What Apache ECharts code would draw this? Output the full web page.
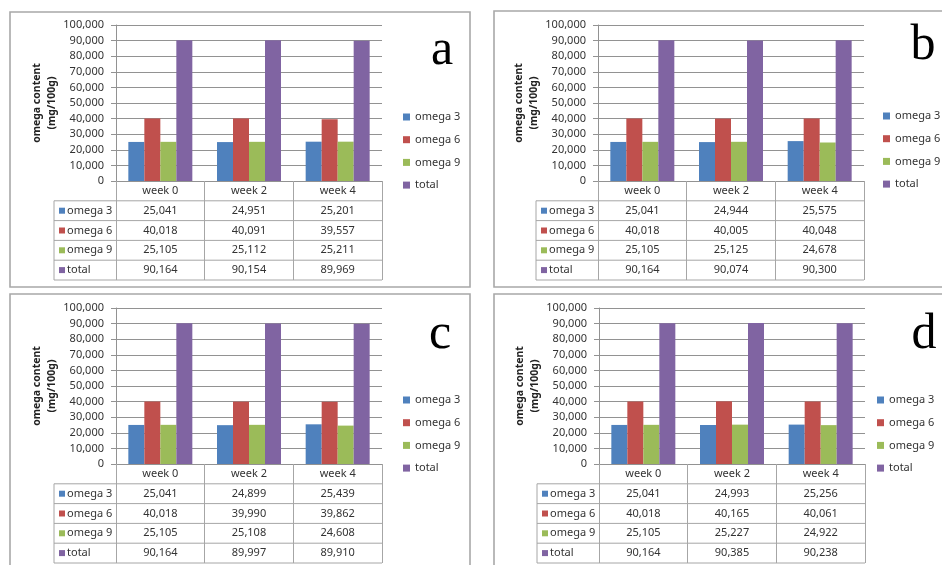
<!DOCTYPE html>
<html>
<head>
<meta charset="utf-8">
<script src="https://cdn.jsdelivr.net/npm/echarts@6/dist/echarts.min.js"></script>
<style>
html,body{margin:0;padding:0;background:#fff;}
#chart{width:942px;height:565px;}
</style>
</head>
<body>
<div id="chart"></div>
<script>
// ---------- data ----------
const weeks = ['week 0', 'week 2', 'week 4'];
const seriesNames = ['omega 3', 'omega 6', 'omega 9', 'total'];
const panelLetters = ['a', 'b', 'c', 'd'];
const yTickMin = 0, yTickMax = 100000, yTickStep = 10000;

const omega3A = [25041, 24951, 25201];
const omega6A = [40018, 40091, 39557];
const omega9A = [25105, 25112, 25211];
const totalA  = [90164, 90154, 89969];

const omega3B = [25041, 24944, 25575];
const omega6B = [40018, 40005, 40048];
const omega9B = [25105, 25125, 24678];
const totalB  = [90164, 90074, 90300];

const omega3C = [25041, 24899, 25439];
const omega6C = [40018, 39990, 39862];
const omega9C = [25105, 25108, 24608];
const totalC  = [90164, 89997, 89910];

const omega3D = [25041, 24993, 25256];
const omega6D = [40018, 40165, 40061];
const omega9D = [25105, 25227, 24922];
const totalD  = [90164, 90385, 90238];

const panelData = [
  [omega3A, omega6A, omega9A, totalA],
  [omega3B, omega6B, omega9B, totalB],
  [omega3C, omega6C, omega9C, totalC],
  [omega3D, omega6D, omega9D, totalD]
];

// ---------- styles / layout ----------
const colors = ['#4F81BD', '#C0504D', '#9BBB59', '#8064A2'];
const FONT = '"Noto Sans", "Open Sans", sans-serif';
const TXT = '#333333';
const GRID_C = '#929292';
const TABLE_C = '#a6a6a6';
const ROW_H = 19.8;
const GW = 266, GH = 156;

const layout = [
  {gl: 116, gt: 25,  lg: [403, 111], letter: [442, 51],  frame: [10, 12, 460, 275]},
  {gl: 598, gt: 25,  lg: [883, 110], letter: [923, 46],  frame: [494, 11, 470, 276]},
  {gl: 116, gt: 308, lg: [403, 394], letter: [440, 335], frame: [10, 294, 460, 300]},
  {gl: 599, gt: 308, lg: [877, 394], letter: [924, 335], frame: [494, 294, 470, 300]}
];

const fmt = v => Number(v).toLocaleString('en-US');

const grids = [], xAxes = [], yAxes = [], series = [], legends = [], graphics = [];

layout.forEach((L, p) => {
  grids.push({left: L.gl, top: L.gt, width: GW, height: GH, outerBoundsMode: 'none', containLabel: false});
  const cols = panelData[p];
  xAxes.push({
    type: 'category', gridIndex: p, data: weeks,
    axisLine: {show: true, lineStyle: {color: GRID_C, width: 1}},
    axisTick: {show: true, interval: 0, length: ROW_H * 5, lineStyle: {color: TABLE_C, width: 1}},
    axisLabel: {
      interval: 0, margin: 0, fontSize: 11, lineHeight: ROW_H, color: TXT, fontFamily: FONT,
      formatter: (val, idx) => [val].concat(cols.map(c => fmt(c[idx]))).join('\n')
    }
  });
  yAxes.push({
    type: 'value', gridIndex: p, min: yTickMin, max: yTickMax, interval: yTickStep,
    name: 'omega content\n(mg/100g)', nameLocation: 'middle', nameRotate: 90, nameGap: 56,
    nameTextStyle: {fontSize: 10.5, fontWeight: 'bold', lineHeight: 15, color: '#222', fontFamily: FONT, align: 'center'},
    axisLine: {show: true, lineStyle: {color: GRID_C, width: 1}},
    axisTick: {show: true, length: 5, lineStyle: {color: GRID_C}},
    axisLabel: {margin: 12, fontSize: 11, color: TXT, fontFamily: FONT, formatter: v => fmt(v)},
    splitLine: {show: true, lineStyle: {color: GRID_C, width: 1}}
  });
  seriesNames.forEach((name, s) => {
    series.push({
      type: 'bar', name: name, xAxisIndex: p, yAxisIndex: p,
      data: cols[s], barWidth: 16, barGap: '0%',
      itemStyle: {color: colors[s]}
    });
  });
  legends.push({
    data: seriesNames, orient: 'vertical', left: L.lg[0], top: L.lg[1], padding: 0,
    itemWidth: 7, itemHeight: 7, icon: 'rect', itemGap: 10.7, selectedMode: false,
    textStyle: {fontSize: 11, color: TXT, fontFamily: FONT, lineHeight: 12}
  });

  // frame
  graphics.push({type: 'rect', shape: {x: L.frame[0], y: L.frame[1], width: L.frame[2], height: L.frame[3]},
    style: {fill: 'none', stroke: '#a8a8a8', lineWidth: 1.6}, silent: true, z: 0});
  // letter
  graphics.push({type: 'text', x: L.letter[0], y: L.letter[1],
    style: {text: panelLetters[p], font: '50px "Liberation Serif", serif', fill: '#000', align: 'center', verticalAlign: 'middle'}, silent: true});
  // table lines
  const tableTop = L.gt + GH;
  const colLeft = L.gl - 62;
  const right = L.gl + GW;
  for (let k = 1; k <= 5; k++) {
    const y = tableTop + ROW_H * k;
    graphics.push({type: 'line', shape: {x1: colLeft, y1: y, x2: right, y2: y},
      style: {stroke: TABLE_C, lineWidth: 1}, silent: true});
  }
  graphics.push({type: 'line', shape: {x1: colLeft, y1: tableTop + ROW_H, x2: colLeft, y2: tableTop + ROW_H * 5},
    style: {stroke: TABLE_C, lineWidth: 1}, silent: true});
  // table legend column
  seriesNames.forEach((name, s) => {
    const cy = tableTop + ROW_H * (s + 1.5);
    graphics.push({type: 'rect', shape: {x: colLeft + 5, y: cy - 3, width: 6, height: 6},
      style: {fill: colors[s]}, silent: true});
    graphics.push({type: 'text', x: colLeft + 13, y: cy,
      style: {text: name, font: '11px ' + FONT, fill: TXT, align: 'left', verticalAlign: 'middle'}, silent: true});
  });
});

const chart = echarts.init(document.getElementById('chart'), null, {renderer: 'canvas'});
chart.setOption({
  animation: false,
  backgroundColor: '#ffffff',
  grid: grids, xAxis: xAxes, yAxis: yAxes, series: series, legend: legends,
  graphic: {elements: graphics}
});
</script>
</body>
</html>
